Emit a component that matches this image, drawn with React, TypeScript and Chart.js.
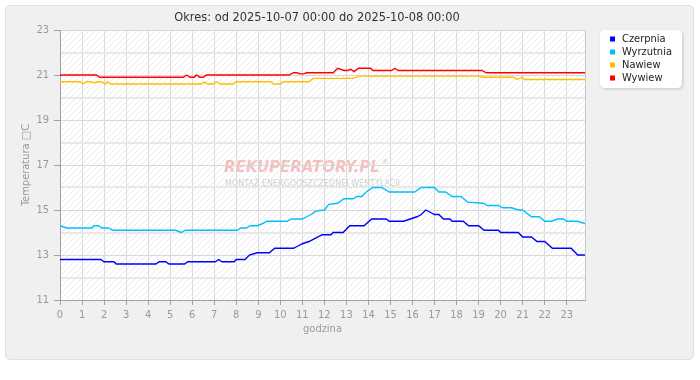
import React, { useEffect, useRef } from "react";
import { Chart, registerables } from "chart.js";

Chart.register(...registerables);

const titleText = "Okres: od 2025-10-07 00:00 do 2025-10-08 00:00";
const xAxisTitle = "godzina";
const yAxisTitle = "Temperatura \u25A1C";
const watermarkMain = "REKUPERATORY.PL";
const watermarkSub = "MONTAŻ ENERGOOSZCZĘDNEJ WENTYLACJI";

const seriesNames = ["Czerpnia", "Wyrzutnia", "Nawiew", "Wywiew"];
const seriesColors = ["#0000ff", "#00bfff", "#ffbf00", "#ff0000"];

const yMin = 11;
const yMax = 23;
const xMin = 0;
const xMax = 23.83;

// [hour, °C]
const czerpnia: [number, number][] = [
  [0, 12.8], [1.85, 12.8], [2.0, 12.7], [2.45, 12.7], [2.55, 12.6], [4.35, 12.6],
  [4.5, 12.7], [4.8, 12.7], [4.95, 12.6], [5.65, 12.6], [5.8, 12.7], [7.05, 12.7],
  [7.2, 12.8], [7.35, 12.7], [7.9, 12.7], [8.0, 12.8], [8.4, 12.8], [8.6, 13.0],
  [8.95, 13.1], [9.5, 13.1], [9.75, 13.3], [10.6, 13.3], [10.8, 13.4], [11.0, 13.5],
  [11.3, 13.6], [11.6, 13.75], [11.9, 13.9], [12.3, 13.9], [12.4, 14.0], [12.85, 14.0],
  [13.15, 14.3], [13.8, 14.3], [14.15, 14.6], [14.8, 14.6], [14.95, 14.5], [15.6, 14.5],
  [16.2, 14.7], [16.4, 14.8], [16.6, 15.0], [16.8, 14.9], [17.0, 14.8], [17.2, 14.8],
  [17.4, 14.6], [17.7, 14.6], [17.8, 14.5], [18.3, 14.5], [18.55, 14.3], [19.0, 14.3],
  [19.25, 14.1], [19.9, 14.1], [20.0, 14.0], [20.8, 14.0], [21.0, 13.8], [21.4, 13.8],
  [21.65, 13.6], [22.0, 13.6], [22.35, 13.3], [23.2, 13.3], [23.5, 13.0], [23.83, 13.0],
];

const wyrzutnia: [number, number][] = [
  [0, 14.3], [0.3, 14.2], [1.45, 14.2], [1.55, 14.3], [1.75, 14.3], [1.9, 14.2],
  [2.2, 14.2], [2.4, 14.1], [5.25, 14.1], [5.5, 14.0], [5.7, 14.1], [8.05, 14.1],
  [8.2, 14.2], [8.45, 14.2], [8.65, 14.3], [8.95, 14.3], [9.2, 14.4], [9.4, 14.5],
  [10.3, 14.5], [10.5, 14.6], [11.0, 14.6], [11.2, 14.7], [11.4, 14.8], [11.6, 14.95],
  [12.0, 15.0], [12.2, 15.25], [12.6, 15.3], [12.9, 15.5], [13.3, 15.5], [13.5, 15.6],
  [13.7, 15.6], [13.9, 15.8], [14.2, 16.0], [14.6, 16.0], [14.95, 15.8], [16.1, 15.8],
  [16.4, 16.0], [17.0, 16.0], [17.2, 15.8], [17.5, 15.8], [17.8, 15.6], [18.2, 15.6],
  [18.5, 15.35], [19.2, 15.3], [19.4, 15.2], [19.9, 15.2], [20.1, 15.1], [20.5, 15.1],
  [20.8, 15.0], [21.0, 15.0], [21.4, 14.7], [21.75, 14.7], [22.0, 14.5], [22.3, 14.5],
  [22.6, 14.6], [22.85, 14.6], [23.0, 14.5], [23.5, 14.5], [23.83, 14.4],
];

const nawiew: [number, number][] = [
  [0, 20.7], [0.9, 20.7], [1.05, 20.6], [1.2, 20.7], [1.4, 20.7], [1.55, 20.65],
  [1.7, 20.7], [1.9, 20.7], [2.05, 20.6], [2.15, 20.7], [2.3, 20.6], [6.4, 20.6],
  [6.55, 20.7], [6.7, 20.6], [6.95, 20.6], [7.1, 20.7], [7.3, 20.6], [7.85, 20.6],
  [8.0, 20.7], [9.55, 20.7], [9.7, 20.6], [10.0, 20.6], [10.15, 20.7], [11.3, 20.7],
  [11.5, 20.85], [13.3, 20.85], [13.6, 20.95], [19.05, 20.95], [19.2, 20.9], [20.6, 20.9],
  [20.75, 20.8], [20.95, 20.9], [21.1, 20.8], [23.83, 20.8],
];

const wywiew: [number, number][] = [
  [0, 21.0], [1.65, 21.0], [1.8, 20.9], [5.6, 20.9], [5.75, 21.0], [5.9, 20.9],
  [6.1, 20.9], [6.2, 21.0], [6.35, 20.9], [6.5, 20.9], [6.65, 21.0], [10.4, 21.0],
  [10.6, 21.1], [10.75, 21.1], [10.9, 21.05], [11.05, 21.05], [11.2, 21.1], [12.4, 21.1],
  [12.6, 21.3], [12.9, 21.2], [13.05, 21.2], [13.2, 21.25], [13.35, 21.15], [13.55, 21.3],
  [14.1, 21.3], [14.2, 21.2], [15.05, 21.2], [15.2, 21.3], [15.35, 21.2], [19.15, 21.2],
  [19.35, 21.1], [23.83, 21.1],
];

const seriesData = [czerpnia, wyrzutnia, nawiew, wywiew];

const FONT = "'DejaVu Sans Condensed', 'DejaVu Sans', 'Liberation Sans', sans-serif";

function makeHatch(): CanvasPattern | string {
  const c = document.createElement("canvas");
  c.width = 6;
  c.height = 6;
  const g = c.getContext("2d");
  if (!g) return "#ffffff";
  g.fillStyle = "#ffffff";
  g.fillRect(0, 0, 6, 6);
  g.strokeStyle = "#ebebeb";
  g.lineWidth = 1;
  g.beginPath();
  g.moveTo(-1, 7);
  g.lineTo(7, -1);
  g.moveTo(-1, 1);
  g.lineTo(1, -1);
  g.moveTo(5, 7);
  g.lineTo(7, 5);
  g.stroke();
  const p = g.createPattern(c, "repeat");
  return p || "#ffffff";
}

const decorPlugin = {
  id: "decor",
  beforeDraw(chart: any) {
    const { ctx, chartArea } = chart;
    const { left, top, right, bottom } = chartArea;
    ctx.save();
    ctx.fillStyle = makeHatch();
    ctx.fillRect(left, top, right - left, bottom - top);
    // watermark
    ctx.textAlign = "left";
    ctx.textBaseline = "middle";
    ctx.font = "italic bold 15px 'DejaVu Sans', sans-serif";
    ctx.fillStyle = "rgba(235, 120, 120, 0.45)";
    ctx.fillText(watermarkMain, 224, 168);
    const w = ctx.measureText(watermarkMain).width;
    ctx.font = "7px 'DejaVu Sans', sans-serif";
    ctx.fillText("\u00AE", 226 + w, 162);
    ctx.font = "8px 'DejaVu Sans', sans-serif";
    ctx.fillStyle = "rgba(190, 190, 190, 0.7)";
    ctx.fillText(watermarkSub, 225, 184);
    ctx.restore();
  },
  afterDraw(chart: any) {
    const { ctx, chartArea } = chart;
    ctx.save();
    // right border of plot
    ctx.strokeStyle = "#c8c8c8";
    ctx.lineWidth = 1;
    ctx.beginPath();
    ctx.moveTo(Math.round(chartArea.right) + 0.5, chartArea.top);
    ctx.lineTo(Math.round(chartArea.right) + 0.5, chartArea.bottom);
    ctx.stroke();
    // title
    ctx.font = `12.7px ${FONT}`;
    ctx.fillStyle = "#333333";
    ctx.textAlign = "center";
    ctx.textBaseline = "middle";
    ctx.fillText(titleText, 317, 18);
    // legend box
    const bx = 600, by = 30, bw = 82, bh = 58, r = 5;
    ctx.save();
    ctx.shadowColor = "rgba(0,0,0,0.18)";
    ctx.shadowBlur = 3;
    ctx.shadowOffsetX = 1;
    ctx.shadowOffsetY = 1;
    ctx.fillStyle = "#ffffff";
    ctx.beginPath();
    ctx.moveTo(bx + r, by);
    ctx.lineTo(bx + bw - r, by);
    ctx.quadraticCurveTo(bx + bw, by, bx + bw, by + r);
    ctx.lineTo(bx + bw, by + bh - r);
    ctx.quadraticCurveTo(bx + bw, by + bh, bx + bw - r, by + bh);
    ctx.lineTo(bx + r, by + bh);
    ctx.quadraticCurveTo(bx, by + bh, bx, by + bh - r);
    ctx.lineTo(bx, by + r);
    ctx.quadraticCurveTo(bx, by, bx + r, by);
    ctx.closePath();
    ctx.fill();
    ctx.restore();
    chart.data.datasets.forEach((ds: any, i: number) => {
      const cy = 39 + i * 13;
      ctx.fillStyle = ds.borderColor;
      ctx.fillRect(610, cy - 2.5, 5, 5);
      ctx.fillStyle = "#222222";
      ctx.font = `11px ${FONT}`;
      ctx.textAlign = "left";
      ctx.textBaseline = "middle";
      ctx.fillText(ds.label, 622, cy);
    });
    ctx.restore();
  },
};

export default function App() {
  const ref = useRef<HTMLCanvasElement | null>(null);

  useEffect(() => {
    if (!ref.current) return;
    const chart = new Chart(ref.current, {
      type: "line",
      data: {
        datasets: seriesNames.map((name, i) => ({
          label: name,
          data: seriesData[i].map(([x, y]) => ({ x, y })),
          borderColor: seriesColors[i],
          backgroundColor: seriesColors[i],
          borderWidth: 1.4,
          pointRadius: 0,
          tension: 0,
          fill: false,
        })),
      },
      options: {
        animation: false,
        responsive: false,
        maintainAspectRatio: false,
        layout: { padding: { left: 0, right: 115, top: 30, bottom: 40 } },
        plugins: {
          legend: { display: false },
          title: { display: false },
          tooltip: { enabled: false },
        },
        scales: {
          x: {
            type: "linear",
            min: xMin,
            max: xMax,
            afterFit: (s: any) => {
              s.height = 40;
            },
            ticks: {
              stepSize: 1,
              includeBounds: false,
              color: "#999999",
              font: { size: 11, family: FONT },
              padding: 4,
              maxRotation: 0,
              autoSkip: false,
            },
            grid: {
              color: "#dadada",
              lineWidth: 1,
              tickLength: 5,
              tickColor: "#a0a0a0",
            },
            border: { color: "#a0a0a0", width: 1 },
            title: {
              display: true,
              text: xAxisTitle,
              color: "#999999",
              font: { size: 11, family: FONT },
              padding: { top: 0, bottom: 4 },
            },
          },
          y: {
            type: "linear",
            min: yMin,
            max: yMax,
            afterFit: (s: any) => {
              s.width = 60;
            },
            ticks: {
              stepSize: 1,
              color: "#999999",
              font: { size: 11, family: FONT },
              padding: 5,
              callback: (v: any) => (Math.round(v) % 2 === 1 ? String(v) : ""),
            },
            grid: {
              color: (c: any) => (Math.round(c.tick.value) % 2 === 1 ? "#d8d8d8" : "#e8e8e8"),
              lineWidth: (c: any) => (Math.round(c.tick.value) % 2 === 1 ? 1 : 2),
              tickLength: 6,
              tickColor: (c: any) =>
                Math.round(c.tick.value) % 2 === 1 ? "#a0a0a0" : "rgba(0,0,0,0)",
            },
            border: { color: "#a0a0a0", width: 1 },
            title: {
              display: true,
              text: yAxisTitle,
              color: "#999999",
              font: { size: 11, family: FONT },
              padding: { top: 20, bottom: 0 },
            },
          },
        },
      },
      plugins: [decorPlugin],
    } as any);
    return () => chart.destroy();
  }, []);

  return (
    <div style={{ position: "absolute", left: 0, top: 0, width: 700, height: 380, background: "#ffffff" }}>
      <div
        style={{
          position: "absolute",
          left: 5,
          top: 5,
          width: 689,
          height: 355,
          boxSizing: "border-box",
          background: "#f0f0f0",
          border: "1px solid #e0e0e0",
          borderRadius: 5,
        }}
      />
      <canvas
        ref={ref}
        width={700}
        height={380}
        style={{ position: "absolute", left: 0, top: 0, width: 700, height: 380 }}
      />
    </div>
  );
}
